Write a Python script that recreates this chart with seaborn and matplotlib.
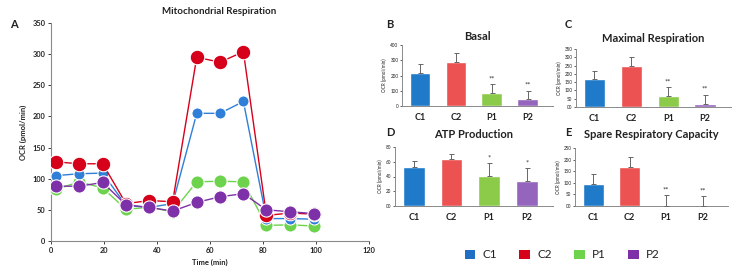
import numpy as np
import pandas as pd
import matplotlib
matplotlib.use("Agg")
import matplotlib.pyplot as plt
from matplotlib.patches import Patch
from matplotlib.ticker import FuncFormatter
import seaborn as sns

sns.set_theme(style="white")
plt.rcParams['font.family'] = ['Lato', 'DejaVu Sans']

# ---------------- data ----------------
groups = ["C1", "C2", "P1", "P2"]
time_min = [1.9, 10.7, 19.5, 28.3, 37.1, 45.9, 55.0, 63.8, 72.6, 81.3, 90.3, 99.1]
ocr_c1 = [105, 108, 109, 57, 54, 60, 205, 205, 224, 36, 36, 35]
ocr_c2 = [127, 124, 124, 60, 65, 63, 295, 287, 304, 41, 45, 43]
ocr_p1 = [83, 95, 85, 51, 54, 47, 95, 96, 95, 25, 26, 24]
ocr_p2 = [88, 88, 94, 58, 54, 48, 62, 71, 76, 50, 47, 44]

basal_mean = [219, 289, 87, 44]
basal_err = [56, 61, 57, 56]
maximal_mean = [167, 249, 68, 20]
maximal_err = [52, 53, 53, 54]
atp_mean = [53.5, 63.5, 41, 34]
atp_err = [7.5, 7.5, 17.5, 17.5]
spare_mean = [96, 168, 0, 0]
spare_err = [43, 42, 46, 42]
basal_sig = ["", "", "**", "**"]
maximal_sig = ["", "", "**", "**"]
atp_sig = ["", "", "*", "*"]
spare_sig = ["", "", "**", "**"]

line_colors = {"C1": "#2F7ED8", "C2": "#D7001B", "P1": "#6DD34C", "P2": "#7E30A8"}
bar_colors = {"C1": "#1F7BC9", "C2": "#EC5252", "P1": "#8CCB4A", "P2": "#9564BC"}
legend_colors = {"C1": "#1F6FC4", "C2": "#D7001B", "P1": "#6DD34C", "P2": "#7E30A8"}

W, H = 739, 272
fig = plt.figure(figsize=(W / 100, H / 100), dpi=100)

def rect(l, r, t, b):
    return [l / W, 1 - b / H, (r - l) / W, (b - t) / H]

spine_col = "#8a8a8a"
txt_col = "#222222"

# ---------------- panel A ----------------
axA = fig.add_axes(rect(51, 369, 23, 241))
series = [("P1", ocr_p1, 9.5), ("C1", ocr_c1, 8), ("C2", ocr_c2, 10.5), ("P2", ocr_p2, 9.5)]
for name, vals, ms in series:
    df = pd.DataFrame({"Time (min)": time_min, "OCR": vals})
    sns.lineplot(data=df, x="Time (min)", y="OCR", ax=axA, color=line_colors[name],
                 marker="o", markersize=ms, markeredgecolor="white", markeredgewidth=0.8,
                 linewidth=1.0, zorder=3)
axA.set_xlim(0, 120)
axA.set_ylim(0, 350)
axA.set_xticks(range(0, 121, 20))
axA.set_yticks(range(0, 351, 50))
axA.set_xlabel("Time (min)", fontsize=5.5, fontweight="bold", color=txt_col, labelpad=4)
axA.set_ylabel("OCR (pmol/min)", fontsize=5.5, fontweight="bold", color=txt_col, labelpad=4)
fig.text(219 / W, 1 - 12 / H, "Mitochondrial Respiration", fontsize=7, fontweight="bold",
         color=txt_col, ha="center", va="center")
axA.tick_params(axis="both", labelsize=5.3, colors=txt_col, length=2, width=0.6, pad=2,
                direction="out", bottom=True, left=True)
for lab in axA.get_xticklabels() + axA.get_yticklabels():
    lab.set_fontweight("bold")
for s in ["top", "right"]:
    axA.spines[s].set_visible(False)
for s in ["left", "bottom"]:
    axA.spines[s].set_color(spine_col)
    axA.spines[s].set_linewidth(0.8)
fig.text(10 / W, 1 - 25 / H, "A", fontsize=8, fontweight="bold", color=txt_col, va="center")

# ---------------- bar panels ----------------
def bar_panel(box, means, errs, sig, title, ymax, ystep, zero_label, letter, letter_xy, title_y):
    ax = fig.add_axes(rect(*box))
    df = pd.DataFrame({"group": groups, "value": means})
    sns.barplot(data=df, x="group", y="value", hue="group", palette=bar_colors,
                legend=False, ax=ax, width=0.58, saturation=1, zorder=2)
    lower = np.zeros(len(errs))
    ax.errorbar(x=np.arange(len(groups)), y=means, yerr=[lower, errs], fmt="none",
                ecolor="#666666", elinewidth=0.7, capsize=1.8, capthick=0.7, zorder=3)
    for i, (m, e, s) in enumerate(zip(means, errs, sig)):
        if s:
            ax.text(i, m + e + ymax * 0.03, s, ha="center", va="bottom", fontsize=5.5,
                    color="#333333")
    ax.set_ylim(0, ymax)
    ax.set_xlim(-0.5, 3.7)
    ax.set_yticks(np.arange(0, ymax + 1, ystep))
    ax.yaxis.set_major_formatter(FuncFormatter(
        lambda v, p: zero_label if v == 0 else f"{v:.0f}"))
    ax.set_xlabel("")
    ax.set_ylabel("OCR (pmol/min)", fontsize=3.3, color=txt_col, labelpad=2)
    ax.tick_params(axis="y", labelsize=3.3, colors=txt_col, length=1.5, width=0.5, pad=1,
                   left=True)
    ax.tick_params(axis="x", labelsize=6.5, colors=txt_col, length=0, pad=5)
    for lab in ax.get_xticklabels():
        lab.set_fontweight("bold")
    for s in ["top", "right"]:
        ax.spines[s].set_visible(False)
    for s in ["left", "bottom"]:
        ax.spines[s].set_color(spine_col)
        ax.spines[s].set_linewidth(0.7)
    cx = (box[0] + box[1]) / 2
    fig.text(cx / W, 1 - title_y / H, title, fontsize=8, fontweight="bold",
             color=txt_col, ha="center", va="center")
    fig.text(letter_xy[0] / W, 1 - letter_xy[1] / H, letter, fontsize=8,
             fontweight="bold", color=txt_col, va="center")
    return ax

bar_panel((402, 553, 45, 106), basal_mean, basal_err, basal_sig, "Basal", 400, 100, "0",
          "B", (386, 25), 36)
bar_panel((576, 731, 49, 107), maximal_mean, maximal_err, maximal_sig,
          "Maximal Respiration", 350, 50, "00", "C", (565, 25), 38)
bar_panel((395, 553, 147, 206), atp_mean, atp_err, atp_sig, "ATP Production", 80, 20,
          "00", "D", (386, 133), 135)
bar_panel((575, 728, 148, 206), spare_mean, spare_err, spare_sig,
          "Spare Respiratory Capacity", 250, 50, "00", "E", (565, 133), 135)

# ---------------- legend ----------------
handles = [Patch(facecolor=legend_colors[g], edgecolor="none", label=g) for g in groups]
fig.legend(handles=handles, loc="center", bbox_to_anchor=(562 / W, 1 - 255 / H), ncol=4,
           frameon=False, fontsize=8.5, handlelength=0.9, handleheight=0.9,
           handletextpad=0.6, columnspacing=1.9, labelcolor=txt_col)

fig.savefig("out.png", dpi=100, facecolor="white")
